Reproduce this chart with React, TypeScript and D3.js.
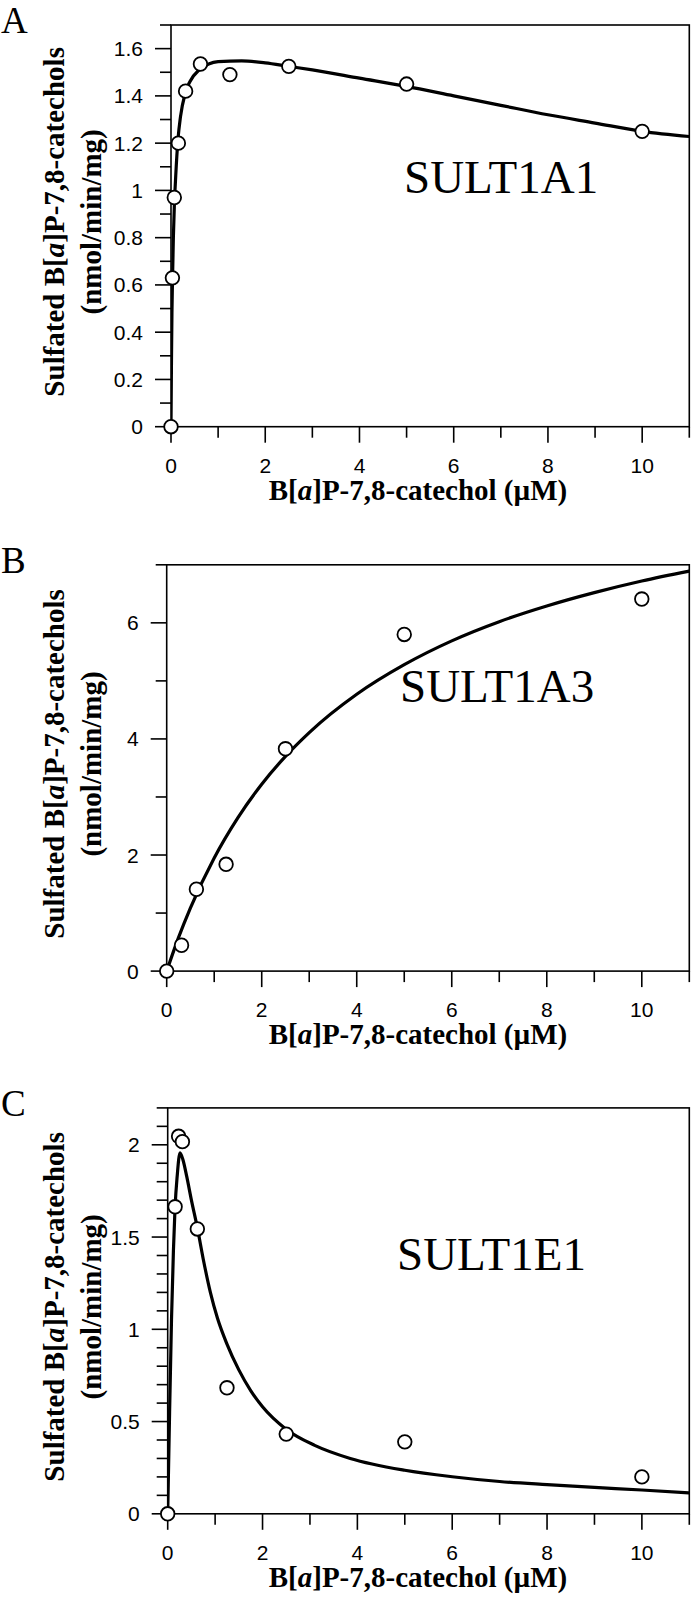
import React from "react";
import * as d3 from "d3";

// ---------- data ----------
const xTicksMajor = [0, 2, 4, 6, 8, 10];
const xTicksMinor = [1, 3, 5, 7, 9, 11];

// Panel A – SULT1A1
const aPointX = [0, 0.03, 0.07, 0.156, 0.31, 0.625, 1.25, 2.5, 5, 10];
const aPointY = [0, 0.63, 0.97, 1.2, 1.42, 1.535, 1.49, 1.525, 1.45, 1.25];
const aCurveX = [0, 0.01, 0.02, 0.03, 0.05, 0.07, 0.1, 0.15, 0.2, 0.3, 0.4, 0.6, 0.8, 1.0, 1.5, 2, 2.5, 3, 4, 5, 6, 7, 8, 9, 10, 11];
const aCurveY = [0, 0.28, 0.48, 0.6, 0.8, 0.93, 1.06, 1.22, 1.31, 1.41, 1.46, 1.51, 1.535, 1.545, 1.548, 1.54, 1.525, 1.51, 1.475, 1.44, 1.4, 1.36, 1.32, 1.285, 1.25, 1.228];
const aYMajor = [0, 0.2, 0.4, 0.6, 0.8, 1, 1.2, 1.4, 1.6];
const aYMinor = [0.1, 0.3, 0.5, 0.7, 0.9, 1.1, 1.3, 1.5, 1.7];

// Panel B – SULT1A3
const bPointX = [0, 0.3125, 0.625, 1.25, 2.5, 5, 10];
const bPointY = [0, 0.445, 1.41, 1.84, 3.83, 5.8, 6.41];
const bCurveX = [0, 0.25, 0.5, 1, 1.5, 2, 2.5, 3, 4, 5, 6, 7, 8, 9, 10, 11];
const bCurveY = [0, 0.58, 1.09, 1.95, 2.645, 3.22, 3.7, 4.11, 4.77, 5.28, 5.69, 6.02, 6.29, 6.52, 6.72, 6.89];
const bYMajor = [0, 2, 4, 6];
const bYMinor = [1, 3, 5, 7];

// Panel C – SULT1E1
const cPointX = [0, 0.156, 0.23, 0.31, 0.625, 1.25, 2.5, 5, 10];
const cPointY = [0, 1.664, 2.046, 2.017, 1.544, 0.683, 0.432, 0.39, 0.2];
const cCurveX = [0, 0.04, 0.08, 0.12, 0.155, 0.2, 0.26, 0.32, 0.4, 0.5, 0.63, 0.75, 0.9, 1.05, 1.25, 1.5, 1.75, 2.0, 2.49, 3.1, 3.85, 5, 6, 7, 8, 9, 10, 11];
const cCurveY = [0, 0.55, 1.05, 1.42, 1.66, 1.83, 1.957, 1.92, 1.83, 1.7, 1.544, 1.38, 1.2, 1.06, 0.92, 0.78, 0.668, 0.58, 0.46, 0.371, 0.3, 0.236, 0.201, 0.175, 0.158, 0.143, 0.129, 0.113];
const cYMajor = [0, 0.5, 1, 1.5, 2];
const cYMinor = [0.1, 0.2, 0.3, 0.4, 0.6, 0.7, 0.8, 0.9, 1.1, 1.2, 1.3, 1.4, 1.6, 1.7, 1.8, 1.9, 2.1, 2.2];

const yTitle2 = "(nmol/min/mg)";

type PanelCfg = {
  id: string;
  letter: string;
  enzyme: string;
  left: number;
  right: number;
  top: number;
  bottom: number;
  yMax: number;
  yMajor: number[];
  yMinor: number[];
  px: number[];
  py: number[];
  cx: number[];
  cy: number[];
  labelX: number;
  labelY: number;
};

const SERIF = "'Liberation Serif', 'Times New Roman', serif";
const SANS = "'Liberation Sans', Arial, sans-serif";

function Panel({ cfg }: { cfg: PanelCfg }) {
  const x = d3.scaleLinear().domain([0, 11]).range([cfg.left, cfg.right]);
  const y = d3.scaleLinear().domain([0, cfg.yMax]).range([cfg.bottom, cfg.top]);
  const pts = cfg.cx.map((v, i) => [v, cfg.cy[i]] as [number, number]);
  const line = d3
    .line<[number, number]>()
    .x((d) => x(d[0]))
    .y((d) => y(d[1]))
    .curve(d3.curveMonotoneX);
  const MAJ = 16;
  const MIN = 11;
  const sw = 1.6;
  const midY = (cfg.top + cfg.bottom) / 2 - 4;
  const fmt = (v: number) => String(v);
  return (
    <g>
      <defs>
        <clipPath id={"clip" + cfg.id}>
          <rect x={cfg.left} y={cfg.top} width={cfg.right - cfg.left} height={cfg.bottom - cfg.top} />
        </clipPath>
      </defs>
      <rect x={cfg.left} y={cfg.top} width={cfg.right - cfg.left} height={cfg.bottom - cfg.top} fill="none" stroke="#000" strokeWidth={sw} />
      {cfg.yMajor.map((v) => (
        <g key={"ym" + v}>
          <line x1={cfg.left - MAJ} x2={cfg.left} y1={y(v)} y2={y(v)} stroke="#000" strokeWidth={sw} />
          <text x={cfg.left - MAJ - 12} y={y(v)} dy="0.36em" textAnchor="end" fontFamily={SANS} fontSize={21}>
            {fmt(v)}
          </text>
        </g>
      ))}
      {cfg.yMinor.map((v) => (
        <line key={"yn" + v} x1={cfg.left - MIN} x2={cfg.left} y1={y(v)} y2={y(v)} stroke="#000" strokeWidth={sw} />
      ))}
      {xTicksMajor.map((v) => (
        <g key={"xm" + v}>
          <line x1={x(v)} x2={x(v)} y1={cfg.bottom} y2={cfg.bottom + MAJ} stroke="#000" strokeWidth={sw} />
          <text x={x(v)} y={cfg.bottom + 46} textAnchor="middle" fontFamily={SANS} fontSize={21}>
            {fmt(v)}
          </text>
        </g>
      ))}
      {xTicksMinor.map((v) => (
        <line key={"xn" + v} x1={x(v)} x2={x(v)} y1={cfg.bottom} y2={cfg.bottom + MIN} stroke="#000" strokeWidth={sw} />
      ))}
      <path d={line(pts) || ""} fill="none" stroke="#000" strokeWidth={3.2} clipPath={`url(#clip${cfg.id})`} strokeLinejoin="round" />
      {cfg.px.map((v, i) => (
        <circle key={"p" + i} cx={x(v)} cy={y(cfg.py[i])} r={6.8} fill="#fff" stroke="#000" strokeWidth={1.8} />
      ))}
      <text x={cfg.labelX} y={cfg.labelY} fontFamily={SERIF} fontSize={47}>
        {cfg.enzyme}
      </text>
      <text x={1} y={cfg.top + 8} fontFamily={SERIF} fontSize={37}>
        {cfg.letter}
      </text>
      <text x={418} y={cfg.bottom + 73} textAnchor="middle" fontFamily={SERIF} fontWeight="bold" fontSize={29}>
        B[<tspan fontStyle="italic">a</tspan>]P-7,8-catechol (µM)
      </text>
      <text transform={`translate(64,${midY}) rotate(-90)`} textAnchor="middle" fontFamily={SERIF} fontWeight="bold" fontSize={29}>
        Sulfated B[<tspan fontStyle="italic">a</tspan>]P-7,8-catechols
      </text>
      <text transform={`translate(101,${midY}) rotate(-90)`} textAnchor="middle" fontFamily={SERIF} fontWeight="bold" fontSize={29}>
        {yTitle2}
      </text>
    </g>
  );
}

const panels: PanelCfg[] = [
  { id: "A", letter: "A", enzyme: "SULT1A1", left: 171, right: 689.3, top: 25, bottom: 426.7, yMax: 1.7, yMajor: aYMajor, yMinor: aYMinor, px: aPointX, py: aPointY, cx: aCurveX, cy: aCurveY, labelX: 404, labelY: 193 },
  { id: "B", letter: "B", enzyme: "SULT1A3", left: 166.7, right: 689.3, top: 564.8, bottom: 971.1, yMax: 7, yMajor: bYMajor, yMinor: bYMinor, px: bPointX, py: bPointY, cx: bCurveX, cy: bCurveY, labelX: 400, labelY: 702 },
  { id: "C", letter: "C", enzyme: "SULT1E1", left: 167.7, right: 689.3, top: 1107.9, bottom: 1513.8, yMax: 2.2, yMajor: cYMajor, yMinor: cYMinor, px: cPointX, py: cPointY, cx: cCurveX, cy: cCurveY, labelX: 397, labelY: 1270 },
];

export default function App() {
  return (
    <svg width={693} height={1597} style={{ position: "absolute", left: 0, top: 0, background: "#fff" }}>
      <rect width={693} height={1597} fill="#fff" />
      {panels.map((p) => (
        <Panel key={p.id} cfg={p} />
      ))}
    </svg>
  );
}
